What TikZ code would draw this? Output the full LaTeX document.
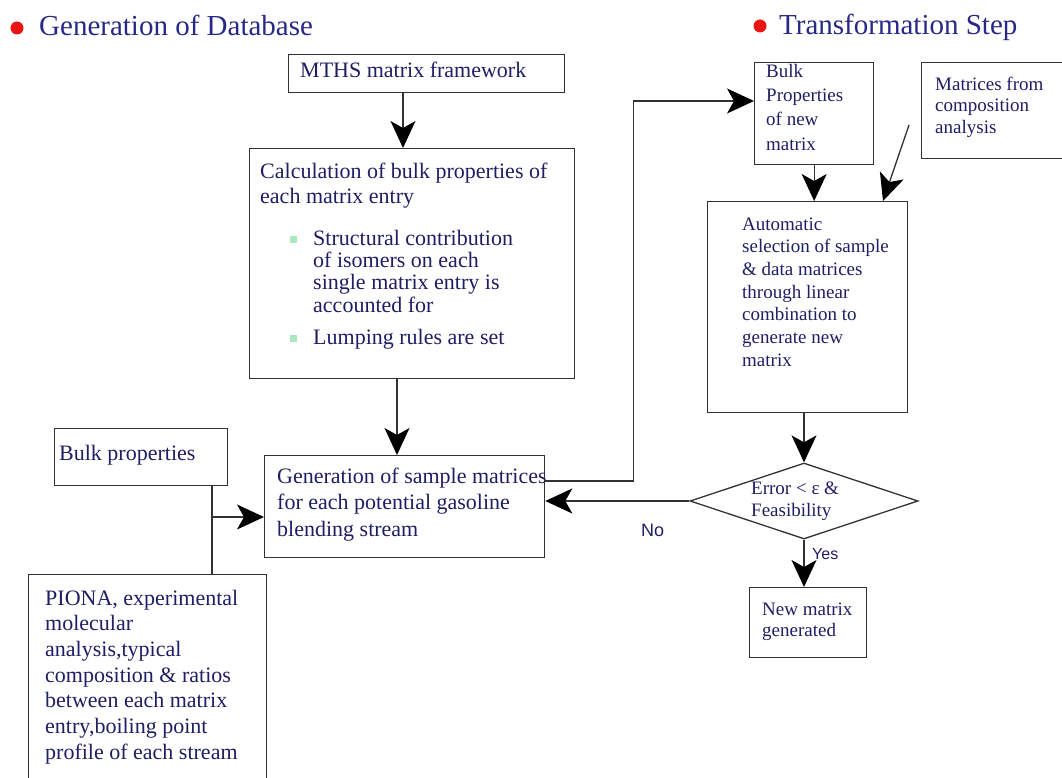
\documentclass[tikz,border=0pt]{standalone}
\usepackage{fontspec}
\setmainfont{Liberation Serif}
\newfontfamily\labelsans{Liberation Sans}
\usetikzlibrary{arrows.meta,shapes.geometric}

\definecolor{ink}{RGB}{30,30,100}
\definecolor{titleink}{RGB}{40,40,135}
\definecolor{edge}{RGB}{50,50,50}
\definecolor{bulletgreen}{RGB}{170,232,190}
\definecolor{dotred}{RGB}{235,20,20}

% small square list marker
\newcommand\sqbullet{\raisebox{2pt}{\textcolor{bulletgreen}{\rule{7pt}{7pt}}}}

\begin{document}
\begin{tikzpicture}[x=1pt,y=-1pt,
  frame/.style={draw=edge,line width=1.3pt,anchor=north west,inner sep=0pt},
  bigtxt/.style={anchor=north west,inner sep=0pt,align=left,text=ink,
                 font=\fontsize{22}{25}\selectfont},
  smalltxt/.style={anchor=north west,inner sep=0pt,align=left,text=ink,
                 font=\fontsize{19}{23}\selectfont},
  flow/.style={draw=edge,line width=1.3pt,
               -{Stealth[length=27pt,width=25pt,inset=7pt,color=black]}},
  link/.style={draw=edge,line width=1.3pt},
  heading/.style={anchor=base west,inner sep=0pt,text=titleink,
                  font=\fontsize{29}{33}\selectfont},
  tag/.style={anchor=base west,inner sep=0pt,text=ink}]

\useasboundingbox (0,0) rectangle (1062,778);

% ---------- section headings ----------
\fill[dotred] (17,28) circle (6.5pt);
\node[heading] (headL) at (39,36) {Generation of Database};
\fill[dotred] (760,26) circle (6.5pt);
\node[heading] (headR) at (779,35) {Transformation Step};

% ---------- database generation ----------
\node[frame,minimum width=276pt,minimum height=38pt] (mths) at (288,54) {};
\node[bigtxt] (mthsT) at (300,59.5) {\strut MTHS matrix framework};

\node[frame,minimum width=325pt,minimum height=230pt] (calc) at (249,148) {};
\node[bigtxt] (calcT) at (260,160.5)
  {\strut Calculation of bulk properties of\\each matrix entry};
\node[bigtxt,font=\fontsize{22}{22.3}\selectfont] (calcL) at (290,229.4)
  {\begin{tabular}{@{}l@{\hspace{16pt}}l@{}}
   \sqbullet & Structural contribution\\
             & of isomers on each\\
             & single matrix entry is\\
             & accounted for\\[10pt]
   \sqbullet & Lumping rules are set
   \end{tabular}};

\node[frame,minimum width=280pt,minimum height=102pt] (gen) at (264,455) {};
\node[bigtxt,font=\fontsize{22}{26.5}\selectfont] (genT) at (277,464.5)
  {\strut Generation of sample matrices\\for each potential gasoline\\blending stream};

\node[frame,minimum width=173pt,minimum height=57pt] (bulk) at (54,428) {};
\node[bigtxt] (bulkT) at (59,442.5) {\strut Bulk properties};

\node[frame,minimum width=238pt,minimum height=230pt] (piona) at (28,574) {};
\node[bigtxt,font=\fontsize{22}{25.7}\selectfont] (pionaT) at (45,587)
  {\strut PIONA, experimental\\molecular\\analysis,typical\\composition \& ratios\\
   between each matrix\\entry,boiling point\\profile of each stream};

% ---------- transformation step ----------
\node[frame,minimum width=119pt,minimum height=102pt] (bp) at (754,62) {};
\node[smalltxt,font=\fontsize{19}{24.3}\selectfont] (bpT) at (766,60)
  {\strut Bulk\\Properties\\of new\\matrix};

\node[frame,minimum width=141pt,minimum height=96pt] (mat) at (921,62) {};
\node[smalltxt,font=\fontsize{19}{21.5}\selectfont] (matT) at (935,75)
  {\strut Matrices from\\composition\\analysis};

\node[frame,minimum width=200pt,minimum height=211pt] (auto) at (707,201) {};
\node[smalltxt,font=\fontsize{19}{22.7}\selectfont] (autoT) at (742,214)
  {\strut Automatic\\selection of sample\\\& data matrices\\through linear\\
   combination to\\generate new\\matrix};

\node[diamond,draw=edge,line width=1.3pt,inner sep=0pt,
      minimum width=228pt,minimum height=76pt] (dia) at (804,501) {};
\node[smalltxt,font=\fontsize{19}{22}\selectfont] (diaT) at (751,478.6)
  {\strut Error < ε \&\\Feasibility};

\node[frame,minimum width=117pt,minimum height=70pt] (new) at (749,587) {};
\node[smalltxt,font=\fontsize{19}{21}\selectfont] (newT) at (762,600.3)
  {\strut New matrix\\generated};

\node[tag,font=\labelsans\fontsize{18}{20}\selectfont] (no) at (641,536.5) {No};
\node[tag,font=\labelsans\fontsize{16}{18}\selectfont] (yes) at (812,559) {Yes};

% ---------- connectors ----------
\draw[flow] ([xshift=115pt]mths.south west) -- ([xshift=115pt]mths.south west |- calc.north);
\draw[flow] ([xshift=148pt]calc.south west) -- ([xshift=148pt]calc.south west |- gen.north);

\coordinate (junc) at (212,517);
\draw[link] (junc |- bulk.south) -- (junc |- piona.north);
\draw[flow] (junc) -- (junc -| gen.west);

\draw[flow] ([yshift=-26pt]gen.north east) -- ++(88,0) |- ([yshift=-39pt]bp.north west);
\draw[flow] (bp.south) -- (bp.south |- auto.north);
\coordinate (matfeed) at (909,125);
\draw[flow] (matfeed) -- ([xshift=176pt]auto.north west);
\draw[flow] (dia.north |- auto.south) -- (dia.north);
\draw[flow] (dia.west) -- (dia.west -| gen.east);
\draw[flow] (dia.south) -- (dia.south |- new.north);

\end{tikzpicture}
\end{document}
